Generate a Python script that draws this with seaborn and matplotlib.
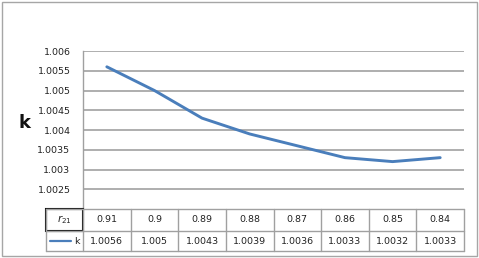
import matplotlib
matplotlib.use("Agg")
import matplotlib.pyplot as plt
import seaborn as sns
import pandas as pd
import numpy as np
from matplotlib.lines import Line2D
from matplotlib.patches import Rectangle

r21_labels = ["0.91", "0.9", "0.89", "0.88", "0.87", "0.86", "0.85", "0.84"]
k_values = [1.0056, 1.005, 1.0043, 1.0039, 1.0036, 1.0033, 1.0032, 1.0033]
k_labels = ["1.0056", "1.005", "1.0043", "1.0039", "1.0036", "1.0033", "1.0032", "1.0033"]
y_ticks = [1.0025, 1.003, 1.0035, 1.004, 1.0045, 1.005, 1.0055, 1.006]
y_tick_labels = ["1.0025", "1.003", "1.0035", "1.004", "1.0045", "1.005", "1.0055", "1.006"]

sns.set_theme(style="white")
plt.rcParams["font.family"] = ["DejaVu Sans"]

df = pd.DataFrame({"pos": np.arange(len(r21_labels)) + 0.5, "k": k_values})

fig = plt.figure(figsize=(4.79, 2.58), dpi=100)
fig.patch.set_facecolor("white")
fig.add_artist(Rectangle((0.004, 0.006), 0.992, 0.988, transform=fig.transFigure,
                         fill=False, edgecolor="#a6a6a6", linewidth=1.0))

ax = fig.add_axes([0.1733, 0.1899, 0.7954, 0.6124])
sns.lineplot(data=df, x="pos", y="k", ax=ax, color="#4a7ebb", linewidth=2.1, legend=False)
ax.set_xlim(0, len(r21_labels))
ax.set_ylim(1.002, 1.006)
ax.set_yticks(y_ticks)
ax.set_yticklabels(y_tick_labels, fontsize=6.8, color="#222222")
ax.set_xticks([])
ax.set_xlabel("")
ax.set_ylabel("")
ax.tick_params(axis="y", length=0, pad=9)
ax.grid(axis="y", color="#a8a8a8", linewidth=1.3)
for s in ["top", "right", "bottom"]:
    ax.spines[s].set_visible(False)
ax.spines["left"].set_color("#a0a0a0")
ax.spines["left"].set_linewidth(1.0)

fig.text(24 / 479, 1 - 123 / 258, "k", fontsize=13, fontweight="bold", ha="center", va="center",
         color="#111111")

# data table below the axes
W = fig.bbox.width
H = fig.bbox.height
x0, x1 = 83, 464
hx0 = 46
row_y = [209, 231, 251]
colw = (x1 - x0) / len(r21_labels)

def fx(px):
    return px / W

def fy(py):
    return 1 - py / H

grid_c = "#a0a0a0"
for py in row_y:
    fig.add_artist(Line2D([fx(hx0), fx(x1)], [fy(py), fy(py)], color=grid_c, linewidth=1.0))
for i in range(len(r21_labels) + 1):
    px = x0 + i * colw
    fig.add_artist(Line2D([fx(px), fx(px)], [fy(row_y[0]), fy(row_y[2])], color=grid_c, linewidth=1.0))
fig.add_artist(Line2D([fx(hx0), fx(hx0)], [fy(row_y[0]), fy(row_y[2])], color=grid_c, linewidth=1.0))
fig.add_artist(Rectangle((fx(hx0), fy(row_y[1])), fx(x0) - fx(hx0), fy(row_y[0]) - fy(row_y[1]),
                         transform=fig.transFigure, fill=False, edgecolor="#111111", linewidth=1.5))

for i, (lab, kv) in enumerate(zip(r21_labels, k_labels)):
    cx = x0 + (i + 0.5) * colw
    fig.text(fx(cx), fy((row_y[0] + row_y[1]) / 2), lab, fontsize=6.8, ha="center", va="center", color="#222222")
    fig.text(fx(cx), fy((row_y[1] + row_y[2]) / 2), kv, fontsize=6.8, ha="center", va="center", color="#222222")

fig.text(fx((hx0 + x0) / 2), fy((row_y[0] + row_y[1]) / 2), "$r_{21}$", fontsize=7.5, ha="center", va="center")
ly = fy((row_y[1] + row_y[2]) / 2)
fig.add_artist(Line2D([fx(50), fx(71)], [ly, ly], color="#4a7ebb", linewidth=1.6))
fig.text(fx(77), ly, "k", fontsize=6.8, ha="center", va="center", color="#222222")

fig.savefig("out.png", dpi=100, facecolor="white")
